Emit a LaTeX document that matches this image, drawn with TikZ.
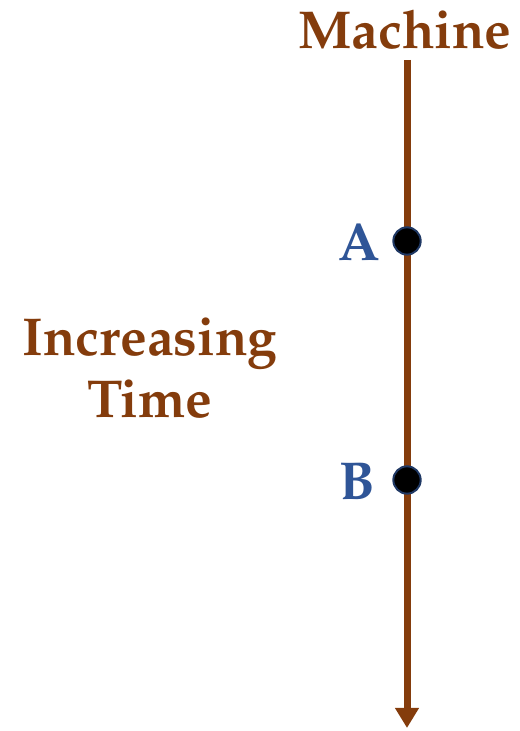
\documentclass[tikz,border=0pt]{standalone}
\usepackage[T1]{fontenc}
\usepackage{mathpazo}
\usetikzlibrary{arrows.meta}
\definecolor{brownc}{HTML}{843C0C}
\definecolor{bluec}{HTML}{2F5597}
\definecolor{dotedge}{HTML}{1F3864}
\tikzset{
  lbl/.style={font=\fontsize{40}{46}\selectfont\bfseries, inner sep=0pt},
  dot/.style={circle, fill=black, draw=dotedge, line width=1.5pt, minimum size=20.5pt, inner sep=0pt},
  timeline/.style={draw=brownc, line width=5.25pt, -{Triangle[length=15pt,width=17pt]}}
}
\begin{document}
\begin{tikzpicture}[x=0.75pt,y=0.75pt]
\useasboundingbox (0,0) rectangle (519,731);
\node[lbl, text=brownc] (machine) at (405,701) {Machine};
\coordinate (top) at (407,671);
\coordinate (bot) at (407,3);
\draw[timeline] (top) -- (bot);
\node[dot] (a) at (407,490) {};
\node[dot] (b) at (407,251) {};
\node[lbl, text=bluec] (la) at (359,489) {A};
\node[lbl, text=bluec] (lb) at (357,249) {B};
\node[lbl, text=brownc, align=center] (time) at (150,363) {Increasing\\Time};
\end{tikzpicture}
\end{document}
